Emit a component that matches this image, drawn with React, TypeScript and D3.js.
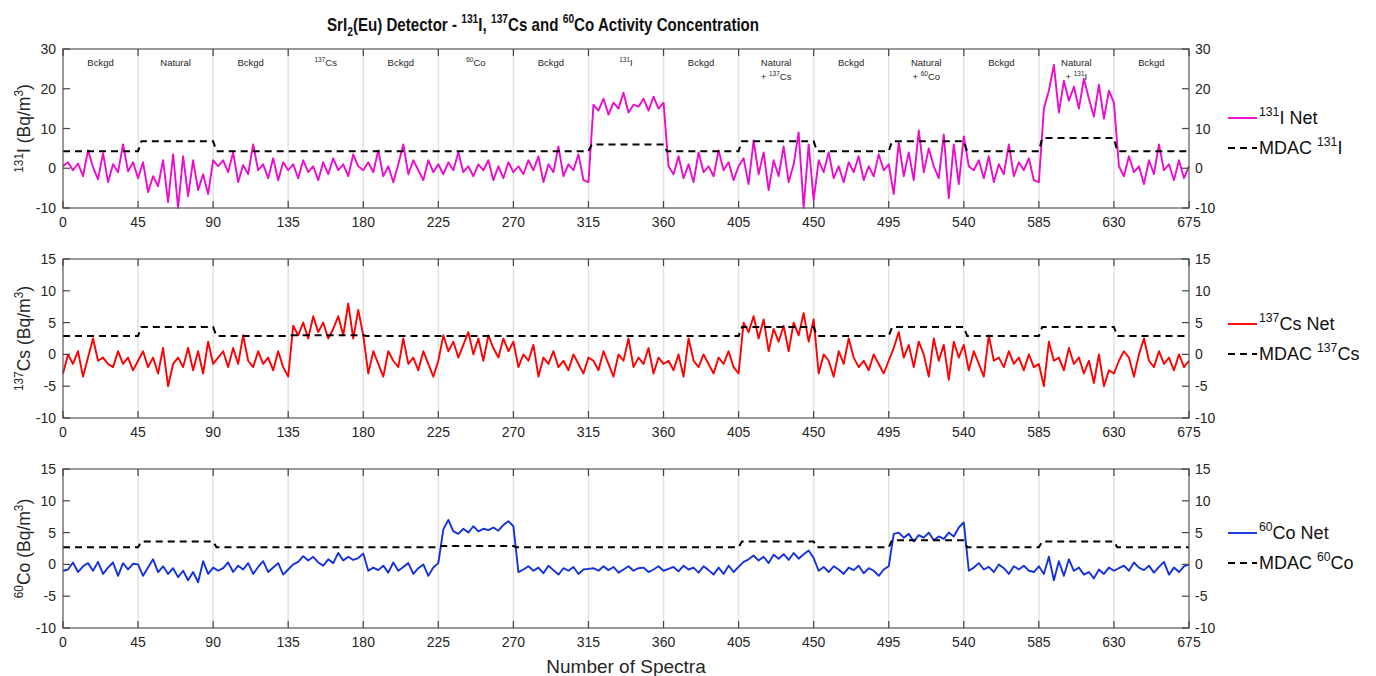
import React from "react";
import * as d3 from "d3";

// spectra are read every 3rd spectrum, 15 samples per 45-spectrum segment
const X_STEP = 3;
const SEG = 45;
const X_MAX = 675;

const segmentLabels = [
  ["Bckgd"], ["Natural"], ["Bckgd"], ["^{137}Cs"], ["Bckgd"], ["^{60}Co"], ["Bckgd"], ["^{131}I"],
  ["Bckgd"], ["Natural", "+ ^{137}Cs"], ["Bckgd"], ["Natural", "+ ^{60}Co"], ["Bckgd"], ["Natural", "+ ^{131}I"], ["Bckgd"],
];

const iodineNet = [
  0.5,
  1.5, -0.5, 1.2, -2.0, 4.5, 0.3, -2.8, 3.8, -3.5, 1.0, -1.0, 6.0, -0.8, 1.5, -2.5,
  1.5, -6.0, -2.0, -4.5, 2.0, -8.5, 3.5, -10.0, 3.0, -7.0, 2.0, -5.5, -1.5, -6.5, 2.0,
  0.5, 2.0, -1.0, 4.0, -3.5, 0.8, -1.5, 6.0, -0.5, 1.0, -2.5, 2.5, -3.0, 1.5, -0.5,
  1.0, -2.5, 2.0, -1.0, 0.5, -3.0, 1.5, -1.5, 2.5, -0.5, 1.0, -2.0, 3.5, 0.5, -0.5,
  1.5, -1.0, 4.5, -2.0, 0.5, -3.5, 1.0, 6.0, -1.5, 2.0, -0.5, -3.0, 2.0, -1.0, 1.0,
  -1.5, 1.5, -0.5, 4.0, -1.0, 0.5, -2.0, 1.0, -0.5, 2.0, -3.0, 0.5, -2.5, 1.5, -1.0,
  0.5, -1.5, 2.0, -0.5, 3.0, -3.5, 1.0, -1.0, 5.5, -2.0, 1.0, -0.5, 3.5, -3.0, -3.5,
  16.0, 14.5, 17.5, 13.5, 16.5, 15.0, 19.0, 14.0, 16.0, 15.5, 17.5, 14.5, 18.0, 15.0, 16.5,
  0.5, -1.5, 3.0, -2.5, 1.0, -3.5, 4.0, -1.0, 0.5, -2.0, 4.5, -0.5, 1.5, -3.0, 0.5,
  2.5, -4.0, 7.0, -1.5, 4.0, -5.5, 2.0, -2.0, 5.5, -3.5, 1.0, 9.0, -10.0, 6.0, -8.0,
  2.0, -1.0, 4.0, -2.5, 0.5, -3.5, 1.5, -1.0, 3.0, -3.0, 0.5, -2.0, 3.5, -0.5, 1.0,
  -6.5, 6.5, -2.0, 4.0, -3.0, 9.5, -1.0, 5.0, 0.5, -2.5, 8.5, -7.5, 6.0, -4.0, 8.0,
  0.5, -0.5, 2.0, -2.5, 3.0, -3.5, 1.0, -1.5, 6.0, -2.0, 1.5, -0.5, 2.5, -3.0, -3.5,
  15.0, 19.5, 26.0, 14.0, 22.0, 17.0, 20.5, 15.0, 22.5, 17.5, 13.0, 21.0, 12.5, 19.5, 16.5,
  0.5, -2.0, 3.0, -1.0, 0.5, -4.0, 2.0, -1.5, 6.0, -0.5, 1.0, -3.0, 2.0, -2.5, 0.5,
];

const cesiumNet = [
  -3.0,
  0.0, -1.5, 0.5, -3.5, -0.5, 2.5, -1.0, -0.5, -1.5, -2.0, 0.5, -1.5, -0.5, -2.5, -1.0,
  0.5, -2.0, -0.5, -3.0, 1.0, -5.0, -1.5, -0.5, -2.0, 1.0, -2.5, 0.5, -3.0, 2.0, -1.5,
  -0.5, 0.5, -2.0, 1.0, -1.5, 3.0, -1.0, -2.0, 0.5, -1.5, -0.5, -2.5, 0.5, -2.0, -3.5,
  4.5, 3.0, 5.0, 2.5, 6.0, 3.5, 5.0, 2.5, 4.0, 6.0, 3.0, 8.0, 2.5, 7.0, 3.0,
  -3.0, 0.5, -1.5, -3.5, 0.5, -1.0, -2.0, 2.5, -1.5, -0.5, -2.5, 0.5, -1.5, -3.5, -1.0,
  3.0, 0.5, 2.0, -0.5, 1.5, 3.5, 0.0, 2.5, -1.0, 3.0, 1.0, -0.5, 2.5, 0.5, 2.0,
  -2.0, 0.0, -1.0, 1.5, -3.5, -0.5, -1.5, 0.5, -2.0, -1.0, -2.5, 0.0, -1.5, -3.0, -0.5,
  -1.0, -2.5, 0.5, -1.5, -3.5, 0.0, -1.0, 2.5, -2.0, -0.5, -1.5, 1.0, -3.0, -0.5, -1.5,
  -1.0, -2.5, 0.0, -3.5, 2.5, -1.0, -2.0, 0.0, -1.5, -3.0, -0.5, -1.5, 0.5, -2.0, -3.0,
  5.0, 3.5, 6.0, 2.5, 5.5, 0.5, 4.0, 2.0, 4.5, 0.5, 5.0, 3.0, 6.5, 2.0, 5.5,
  -3.0, 0.0, -1.0, -3.5, 0.5, -1.5, 2.5, -0.5, -2.0, -1.0, -2.5, 0.0, -1.5, -3.0, -1.0,
  1.0, 3.5, -0.5, 1.5, -2.0, 2.0, 0.0, -3.5, 2.5, -1.0, 1.5, -4.0, 2.0, -0.5, 1.5,
  -2.5, 0.5, -1.5, -3.5, 3.0, -1.0, -0.5, -2.0, 0.5, -1.5, -0.5, -2.5, 0.0, -2.0, -1.5,
  -5.0, 2.0, -1.0, -0.5, -2.5, 1.0, -1.5, -0.5, -3.0, -1.0, -4.5, 0.0, -5.0, -2.5, -3.0,
  -1.0, 0.5, -0.5, -3.5, 0.0, 2.5, -1.0, -2.0, 0.5, -1.5, -0.5, -2.5, 0.0, -2.0, -1.0,
];

const cobaltNet = [
  -1.0,
  -0.8, 0.3, -1.2, -0.3, 0.2, -1.0, 0.4, -1.5, -0.5, 0.3, -1.8, 0.2, -0.8, 0.1, 0.0,
  -1.8, -0.5, 0.8, -1.2, -0.3, -1.5, -0.6, -2.0, -1.0, -2.5, -1.2, -2.8, 0.5, -1.5, -0.5,
  -1.0, -0.6, 0.3, -1.2, -0.2, -0.8, 0.2, -1.5, -0.4, 0.5, -1.2, -0.5, 0.2, -1.6, -0.8,
  0.0, 0.4, 1.3, 0.6, 1.2, 0.3, -0.2, 0.8, 0.2, 1.8, 0.6, 1.2, 0.7, 1.0, 1.7,
  -1.0, -0.5, -0.9, -0.2, -1.3, 0.3, -1.0, -0.4, 0.2, -1.5, -0.6, 0.0, -1.8, -0.5, 0.2,
  5.5, 7.0, 5.2, 4.8, 5.6, 5.0, 6.0, 5.2, 5.6, 5.4, 5.8, 5.3, 6.2, 6.8, 6.0,
  -1.2, -0.8, -0.3, -1.0, -0.5, -1.4, -0.2, -0.9, -1.6, -0.6, -1.0, -0.4, -1.5, -0.8, -0.7,
  -0.6, -1.0, -0.3, -0.9, -0.4, -1.3, -0.8, -0.3, -1.0, -0.6, -0.5, -1.2, -0.8, -0.3, -1.0,
  -0.7, -0.4, -1.1, -0.2, -0.8, -0.5, -1.3, -0.3, -0.9, -1.6, -0.5, -1.5, -0.2, -1.2, -0.4,
  0.4, 0.8, 1.4, 0.6, 1.2, 0.2, 1.5, 0.9, 1.6, 0.7, 1.8, 0.9, 1.6, 2.2, 1.0,
  -1.0, -0.4, -1.2, -0.3, -0.8, -1.5, -0.5, -0.9, -0.2, -1.4, -0.6, -1.0, -1.8, -0.8, -0.3,
  4.8, 5.0, 4.2, 4.8, 3.6, 4.6, 4.2, 5.0, 3.8, 4.4, 4.0, 5.0, 4.4, 5.8, 6.6,
  -1.0, -0.5, 0.2, -0.8, -0.4, -1.2, 0.0, -0.6, -1.5, -0.3, -0.8, -0.2, -1.0, -1.2, -0.3,
  -1.5, 1.2, -2.5, 0.5, -1.8, 0.8, -1.0, -0.5, -1.6, -1.2, -2.2, -0.8, -1.5, -0.5, -1.0,
  -0.6, -0.2, -1.0, 0.3, -0.5, -0.9, -0.2, -1.3, -0.4, 0.4, -1.6, -0.5, -1.2, -0.3, 0.0,
];

// MDAC level for each 45-spectrum segment
const mdacIodine = [4.3, 6.8, 4.3, 4.3, 4.3, 4.3, 4.3, 6.0, 4.3, 6.8, 4.3, 6.8, 4.3, 7.6, 4.3];
const mdacCesium = [2.9, 4.3, 2.9, 3.0, 2.9, 2.9, 2.9, 2.9, 2.9, 4.3, 2.9, 4.3, 2.9, 4.3, 2.9];
const mdacCobalt = [2.7, 3.6, 2.7, 2.7, 2.7, 2.9, 2.7, 2.7, 2.7, 3.6, 2.7, 3.8, 2.7, 3.6, 2.7];

const iodineTicks = [-10, 0, 10, 20, 30];
const otherTicks = [-10, -5, 0, 5, 10, 15];

const FONT = "'Liberation Sans', Arial, Helvetica, sans-serif";
const AX = "#262626";
const L = 63, R = 1189;

const panels = [
  { top: 49, bottom: 208, domain: [-10, 30], ticks: iodineTicks, net: iodineNet, mdac: mdacIodine,
    color: "#ec0ccc", yLabel: "^{131}I (Bq/m^{3})", netLabel: "^{131}I Net", mdacLabel: "MDAC ^{131}I", labels: true, legY: 118 },
  { top: 259, bottom: 418, domain: [-10, 15], ticks: otherTicks, net: cesiumNet, mdac: mdacCesium,
    color: "#ff0000", yLabel: "^{137}Cs (Bq/m^{3})", netLabel: "^{137}Cs Net", mdacLabel: "MDAC ^{137}Cs", labels: false, legY: 324 },
  { top: 469, bottom: 628, domain: [-10, 15], ticks: otherTicks, net: cobaltNet, mdac: mdacCobalt,
    color: "#1432dc", yLabel: "^{60}Co (Bq/m^{3})", netLabel: "^{60}Co Net", mdacLabel: "MDAC ^{60}Co", labels: false, legY: 533 },
];

function Rich({ text, fs, ...rest }: any) {
  const parts = text.split(/(\^\{[^}]*\}|_\{[^}]*\})/).filter((p: string) => p !== "");
  let shift = 0;
  return (
    <text fontSize={fs} {...rest}>
      {parts.map((p: string, i: number) => {
        let dy = 0, size = fs, content = p;
        if (p.startsWith("^{")) {
          content = p.slice(2, -1); size = fs * 0.68; dy = -fs * 0.42 - shift; shift = -fs * 0.42;
        } else if (p.startsWith("_{")) {
          content = p.slice(2, -1); size = fs * 0.68; dy = fs * 0.28 - shift; shift = fs * 0.28;
        } else {
          dy = -shift; shift = 0;
        }
        return <tspan key={i} fontSize={size} dy={dy}>{content}</tspan>;
      })}
    </text>
  );
}

function Panel({ cfg }: any) {
  const x = d3.scaleLinear().domain([0, X_MAX]).range([L, R]);
  const y = d3.scaleLinear().domain(cfg.domain).range([cfg.bottom, cfg.top]);
  const xTicks = d3.range(0, X_MAX + 1, SEG);
  const netLine = d3.line<number>().x((_, i) => x(i * X_STEP)).y((d) => y(d));
  const mdacPts: [number, number][] = cfg.mdac.flatMap((v: number, k: number) => [
    [k * SEG + (k ? 2 : 0), v], [(k + 1) * SEG, v],
  ]);
  const mdacLine = d3.line<[number, number]>().x((d) => x(d[0])).y((d) => y(d[1]));
  const tk = 7;
  const midY = (cfg.top + cfg.bottom) / 2;

  return (
    <g fontFamily={FONT}>
      {xTicks.slice(1, -1).map((t) => (
        <line key={"g" + t} x1={x(t)} x2={x(t)} y1={cfg.top} y2={cfg.bottom} stroke="#e2e2e2" strokeWidth={1.5} />
      ))}
      {cfg.labels && segmentLabels.map((lab, k) => (
        <g key={"s" + k}>
          {lab.map((ln, j) => (
            <Rich key={j} text={ln} fs={9.5} x={x(k * SEG + SEG / 2)} y={66 + j * 14} textAnchor="middle" fill={AX} />
          ))}
        </g>
      ))}
      <path d={netLine(cfg.net) || ""} fill="none" stroke={cfg.color} strokeWidth={1.9} strokeLinejoin="round" />
      <path d={mdacLine(mdacPts) || ""} fill="none" stroke="#000" strokeWidth={2} strokeDasharray="7,5" />
      <rect x={L} y={cfg.top} width={R - L} height={cfg.bottom - cfg.top} fill="none" stroke="#555" strokeWidth={1.2} />
      {xTicks.map((t) => (
        <g key={"x" + t}>
          <line x1={x(t)} x2={x(t)} y1={cfg.bottom} y2={cfg.bottom - tk} stroke="#444" strokeWidth={1.2} />
          <line x1={x(t)} x2={x(t)} y1={cfg.top} y2={cfg.top + tk} stroke="#444" strokeWidth={1.2} />
          <text x={x(t)} y={cfg.bottom + 19} fontSize={14} textAnchor="middle" fill={AX}>{t}</text>
        </g>
      ))}
      {cfg.ticks.map((t: number) => (
        <g key={"y" + t}>
          <line x1={L} x2={L + tk} y1={y(t)} y2={y(t)} stroke="#444" strokeWidth={1.2} />
          <line x1={R} x2={R - tk} y1={y(t)} y2={y(t)} stroke="#444" strokeWidth={1.2} />
          <text x={L - 7} y={y(t)} dy="0.36em" fontSize={14} textAnchor="end" fill={AX}>{t}</text>
          <text x={R + 6} y={y(t)} dy="0.36em" fontSize={14} textAnchor="start" fill={AX}>{t}</text>
        </g>
      ))}
      <Rich text={cfg.yLabel} fs={17.5} x={0} y={0} textAnchor="middle" fill={AX}
        transform={`translate(30,${midY}) rotate(-90)`} />
      <line x1={1228} x2={1257} y1={cfg.legY} y2={cfg.legY} stroke={cfg.color} strokeWidth={1.9} />
      <Rich text={cfg.netLabel} fs={18} x={1259} y={cfg.legY + 6} fill="#111" />
      <line x1={1228} x2={1257} y1={cfg.legY + 30} y2={cfg.legY + 30} stroke="#000" strokeWidth={2} strokeDasharray="7,5" />
      <Rich text={cfg.mdacLabel} fs={18} x={1259} y={cfg.legY + 36} fill="#111" />
    </g>
  );
}

export default function App() {
  return (
    <svg width={1376} height={676} style={{ position: "absolute", left: 0, top: 0, background: "#fff" }}>
      <g transform="translate(327,31) scale(0.84,1)">
        <Rich text="SrI_{2}(Eu) Detector - ^{131}I, ^{137}Cs and ^{60}Co Activity Concentration" fs={18}
          x={0} y={0} fontWeight="bold" fontFamily={FONT} fill="#111" />
      </g>
      {panels.map((p, i) => <Panel key={i} cfg={p} />)}
      <text x={626} y={673} fontSize={19} textAnchor="middle" fontFamily={FONT} fill={AX}>Number of Spectra</text>
    </svg>
  );
}
